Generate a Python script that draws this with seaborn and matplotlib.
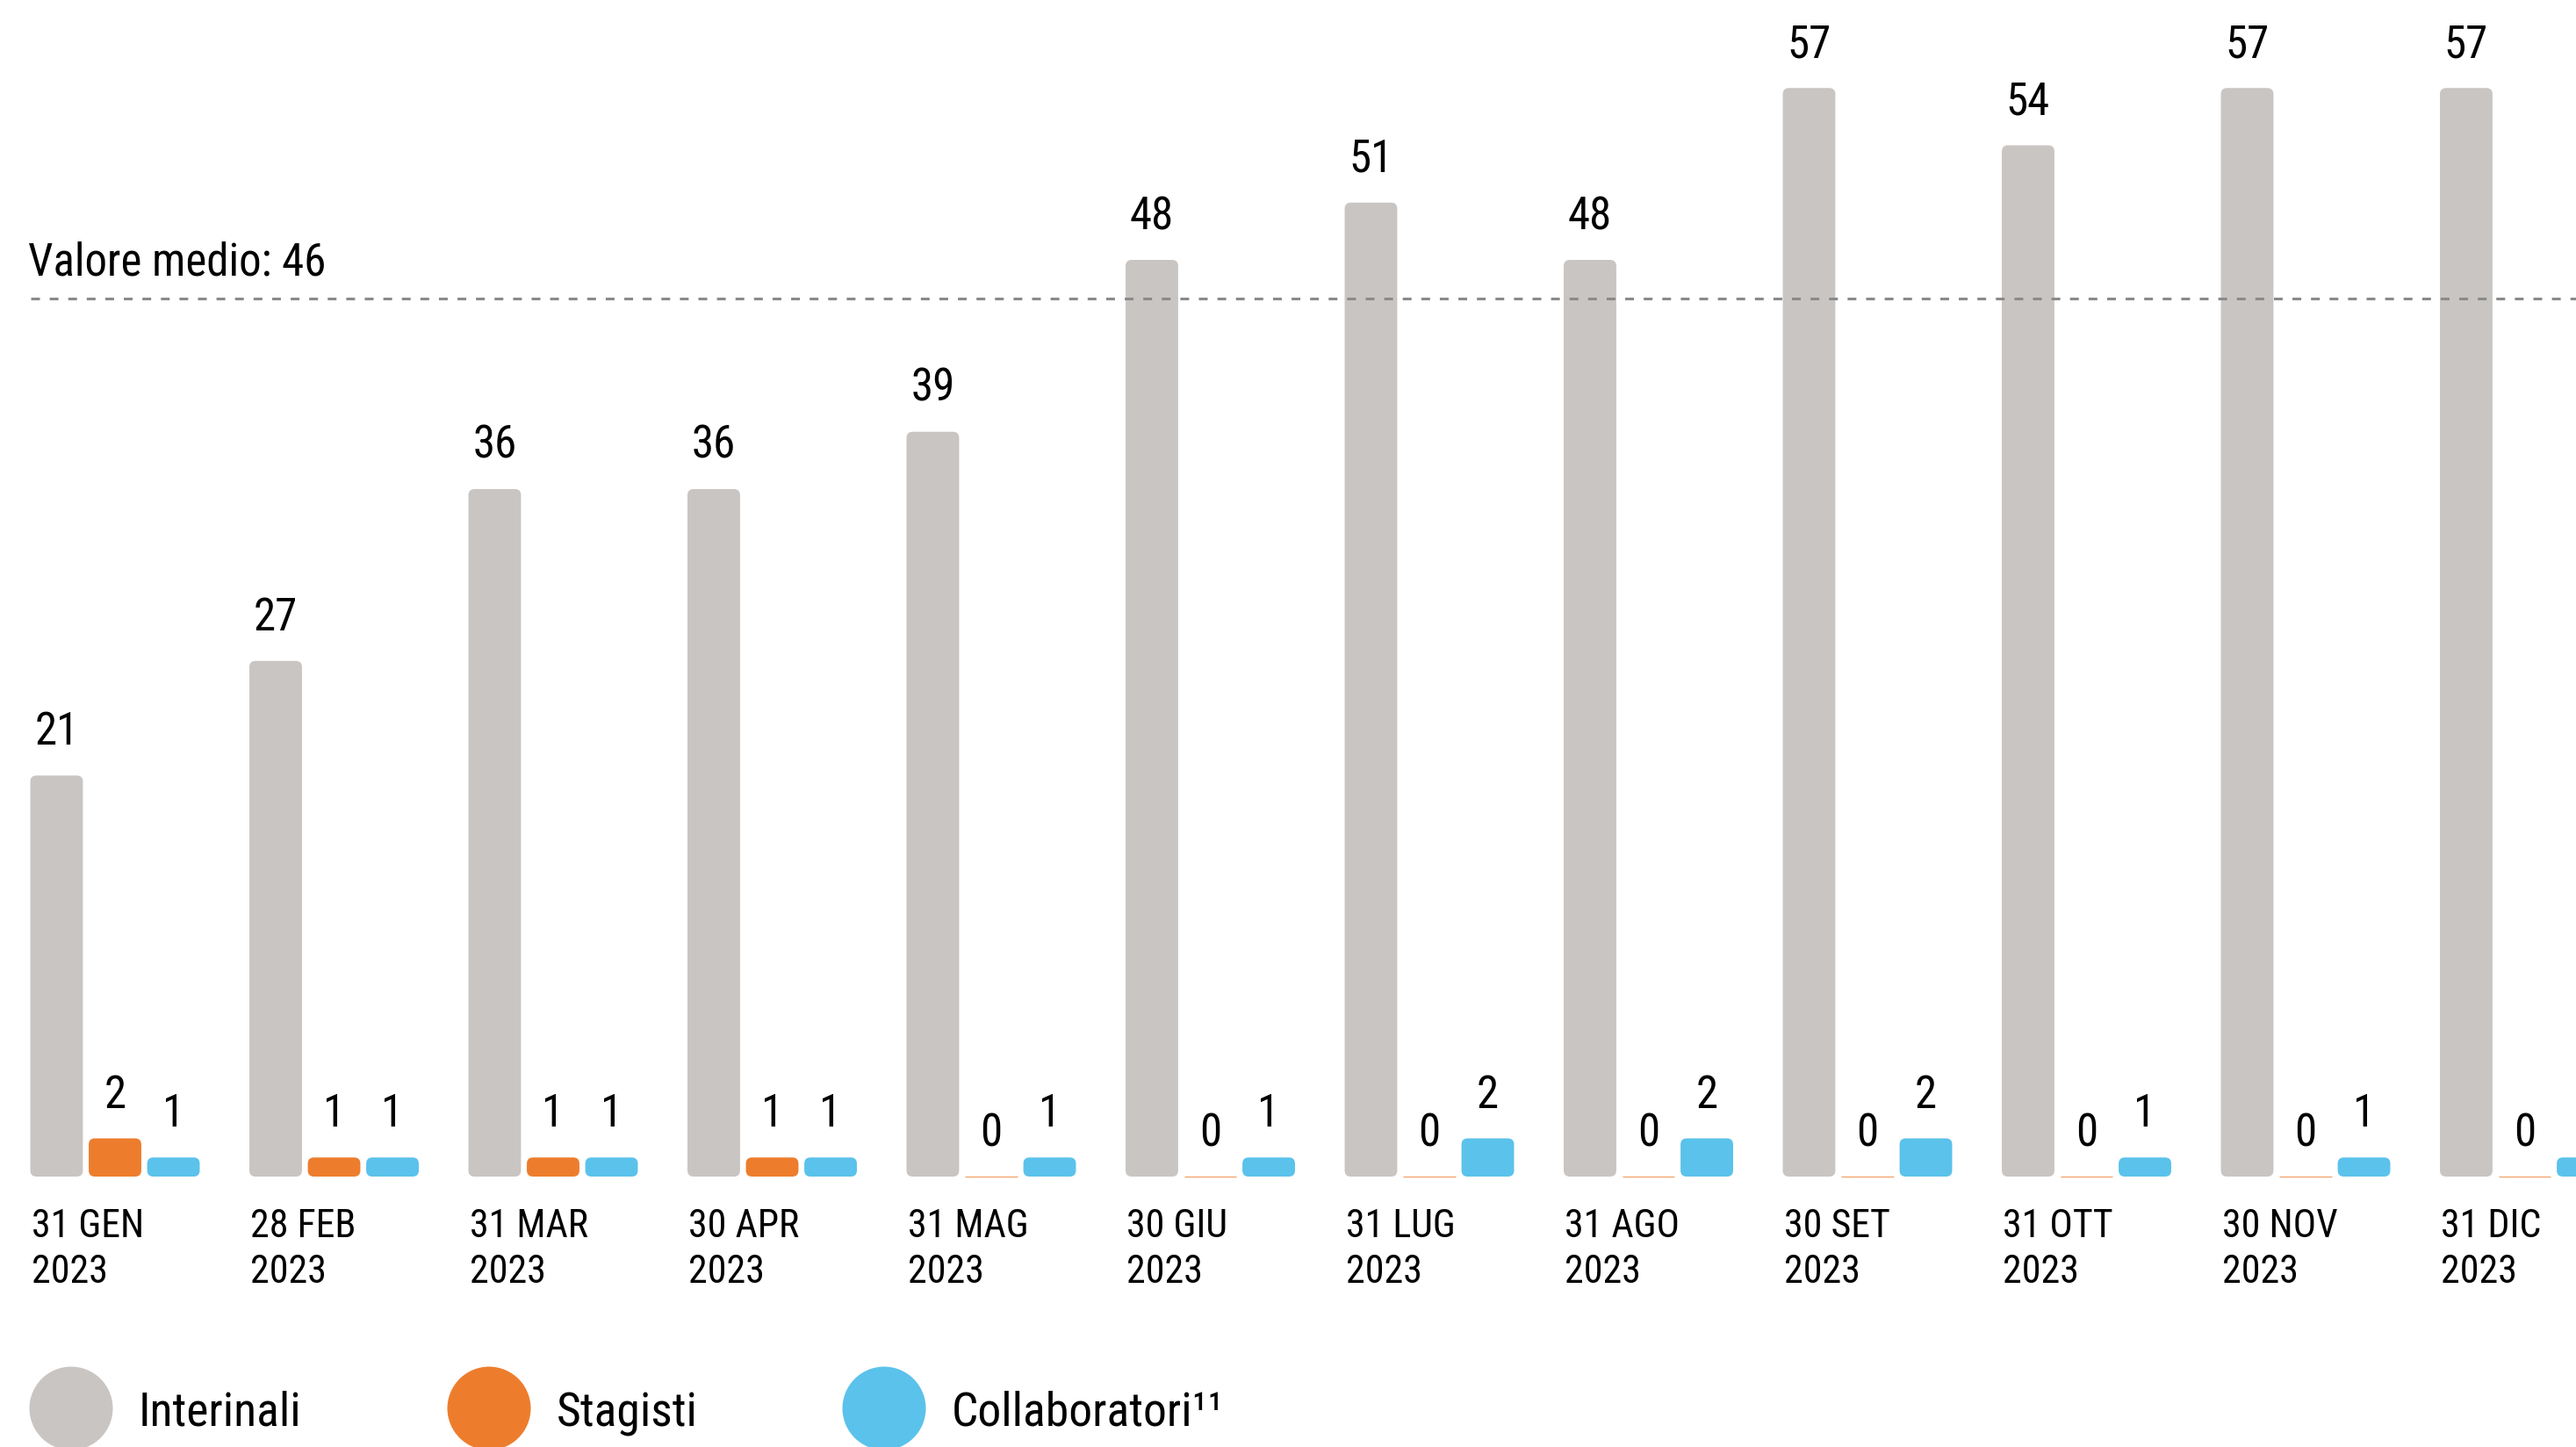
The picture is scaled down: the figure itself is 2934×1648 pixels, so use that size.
import numpy as np
import pandas as pd
import matplotlib
matplotlib.use("Agg")
import matplotlib.pyplot as plt
from matplotlib import font_manager
from matplotlib.patches import FancyBboxPatch, Ellipse
import seaborn as sns

# ---- data -------------------------------------------------------------
date_labels = ["31 GEN\n2023", "28 FEB\n2023", "31 MAR\n2023", "30 APR\n2023",
               "31 MAG\n2023", "30 GIU\n2023", "31 LUG\n2023", "31 AGO\n2023",
               "30 SET\n2023", "31 OTT\n2023", "30 NOV\n2023", "31 DIC\n2023"]
interinali = [21, 27, 36, 36, 39, 48, 51, 48, 57, 54, 57, 57]
stagisti = [2, 1, 1, 1, 0, 0, 0, 0, 0, 0, 0, 0]
collaboratori = [1, 1, 1, 1, 1, 1, 2, 2, 2, 1, 1, 1]
series_names = ["Interinali", "Stagisti", "Collaboratori"]
legend_labels = ["Interinali", "Stagisti", "Collaboratori\u00b9\u00b9"]
mean_value = 46
mean_label = "Valore medio: 46"

colors = {"Interinali": "#C9C5C2", "Stagisti": "#ED7D2D", "Collaboratori": "#5BC2EB"}
zero_line_color = "#F4A66E"

# ---- font -------------------------------------------------------------
available = {f.name for f in font_manager.fontManager.ttflist}
FONT = "Liberation Sans"
for cand in ["Liberation Sans Narrow", "Roboto Condensed", "Open Sans Condensed"]:
    if cand in available:
        FONT = cand
        break

sns.set_theme(style="white")
plt.rcParams["font.family"] = [FONT, "DejaVu Sans"]
plt.rcParams["lines.scale_dashes"] = False

# ---- long-format table ------------------------------------------------
df = pd.DataFrame({
    "Data": date_labels * 3,
    "Categoria": np.repeat(series_names, len(date_labels)),
    "Valore": interinali + stagisti + collaboratori,
})

W, H, DPI = 2934, 1648, 200
fig = plt.figure(figsize=(W / DPI, H / DPI), dpi=DPI)
ax = fig.add_axes([0, 0, 1, 1])

sns.barplot(data=df, x="Data", y="Valore", hue="Categoria",
            order=date_labels, hue_order=series_names, palette=colors,
            saturation=1, width=0.8, gap=0.1, errorbar=None,
            legend=False, ax=ax)

# plotting area: group pitch ~249.5 px, 21.75 px per person
px_per_x = 249.5
px_per_y = 21.75
x_origin_px = 131
y_base_px = 1340
ax.set_xlim(-x_origin_px / px_per_x, (W - x_origin_px) / px_per_x)
ax.set_ylim(-(H - y_base_px) / px_per_y, y_base_px / px_per_y)
ax.axis("off")

# rounded bars
radius_px = 7
for cont in ax.containers:
    for bar in cont:
        x, y, w, h = bar.get_x(), bar.get_y(), bar.get_width(), bar.get_height()
        bar.set_visible(False)
        if h > 0:
            rb = FancyBboxPatch((x, y), w, h,
                                boxstyle=f"round,pad=0,rounding_size={radius_px / px_per_x}",
                                mutation_aspect=px_per_x / px_per_y,
                                fc=bar.get_facecolor(), ec="none", zorder=2)
            ax.add_patch(rb)
        else:
            ax.plot([x, x + w], [0, 0], color=zero_line_color, lw=0.5,
                    solid_capstyle="butt", zorder=2)

# value labels
for cont, vals in zip(ax.containers, [interinali, stagisti, collaboratori]):
    for bar, v in zip(cont, vals):
        ax.annotate(f"{v}", (bar.get_x() + bar.get_width() / 2, v),
                    xytext=(0, 12.6), textcoords="offset points",
                    ha="center", va="baseline", fontsize=18.3, color="black")

# date labels, left-aligned under the first bar of each group
for bar, lab in zip(ax.containers[0], date_labels):
    ax.annotate(lab, (bar.get_x(), 0), xytext=(0.4, -13.0), textcoords="offset points",
                ha="left", va="top", fontsize=15.8, linespacing=1.29, color="black")

# mean line
x_start = ax.containers[0][0].get_x()
ax.plot([x_start, ax.get_xlim()[1]], [mean_value, mean_value], color="#8A8A8A",
        lw=1.1, linestyle=(0, (3.6, 4.0)), zorder=3)
ax.annotate(mean_label, (x_start, mean_value), xytext=(-0.8, 9.4),
            textcoords="offset points", ha="left", va="baseline",
            fontsize=18.3, color="black")

# legend
legend_cx = [81, 557, 1007]
legend_tx = [158, 634, 1084]
circle_cy = 1604
text_base = 1624
diam = 95
for name, lab, cx, tx in zip(series_names, legend_labels, legend_cx, legend_tx):
    fig.add_artist(Ellipse((cx / W, 1 - circle_cy / H), diam / W, diam / H,
                           transform=fig.transFigure, fc=colors[name], ec="none"))
    fig.text(tx / W, 1 - text_base / H, lab, ha="left", va="baseline",
             fontsize=19.3, color="black")

fig.savefig("out.png", dpi=DPI, facecolor="white")
